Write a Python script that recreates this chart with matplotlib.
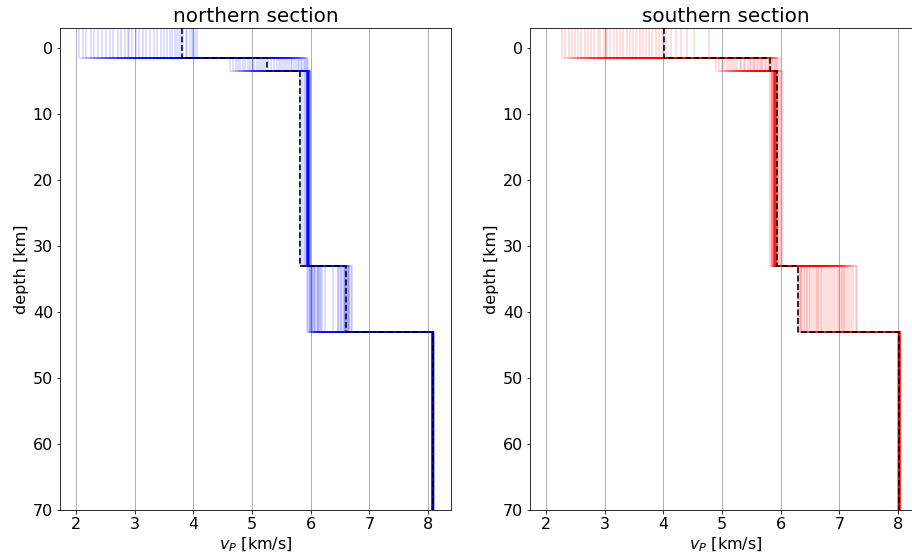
import matplotlib
matplotlib.use("Agg")
import matplotlib.pyplot as plt
import numpy as np

# Layer interfaces [km]; profile starts above sea level and ends in the half-space
layer_tops = [-3.0, 1.5, 3.5, 33.0, 43.0]
model_bottom = 70.0

# ---- northern section: ensemble of accepted models, P velocity per layer [km/s]
north_l1 = [2.05, 2.12, 2.18, 2.25, 2.31, 2.38, 2.44, 2.52, 2.58, 2.63, 2.71, 2.77, 2.84, 2.90,
            2.96, 3.02, 3.08, 3.14, 3.20, 3.27, 3.33, 3.39, 3.45, 3.50, 3.56, 3.60, 3.64, 3.69,
            3.72, 3.75, 3.79, 3.83, 3.87, 3.90, 3.94, 3.97, 4.00, 4.03, 4.06, 2.88]
north_l2 = [4.63, 4.68, 4.72, 4.77, 4.80, 4.84, 4.88, 4.93, 4.97, 5.00, 5.04, 5.08, 5.12, 5.15,
            5.19, 5.22, 5.28, 5.33, 5.38, 5.42, 5.46, 5.50, 5.53, 5.57, 5.60, 5.63, 5.66, 5.69,
            5.72, 5.75, 5.78, 5.80, 5.83, 5.86, 5.88, 5.90, 5.92, 5.94, 5.96, 5.02]
north_l3 = [5.95, 5.96, 5.94, 5.97, 5.95, 5.93, 5.98, 5.96, 5.95, 5.94, 5.97, 5.99, 5.96, 5.95,
            5.93, 5.94, 5.96, 5.98, 5.95, 5.97, 5.96, 5.94, 5.95, 5.92, 5.97, 5.96, 5.95, 5.98,
            5.94, 5.96, 5.90, 5.86, 5.82, 5.95, 5.96, 5.97, 5.94, 5.95, 5.93, 5.88]
north_l4 = [5.94, 5.96, 5.97, 5.99, 6.00, 6.02, 6.03, 6.05, 6.07, 6.08, 6.10, 6.12, 6.14, 6.16,
            6.18, 6.20, 6.25, 6.38, 6.46, 6.50, 6.52, 6.54, 6.56, 6.57, 6.58, 6.60, 6.61, 6.62,
            6.63, 6.64, 6.65, 6.66, 6.68, 6.70, 5.98, 6.04, 6.47, 6.59, 6.12, 6.01]
north_hs = [8.08, 8.07, 8.09, 8.08, 8.06, 8.08, 8.09, 8.10, 8.08, 8.07, 8.08, 8.09, 8.08, 8.07,
            8.08, 8.06, 8.08, 8.09, 8.08, 8.07, 8.10, 8.08, 8.08, 8.07, 8.09, 8.08, 8.06, 8.08,
            8.09, 8.08, 8.07, 8.08, 8.10, 8.08, 8.09, 8.07, 8.08, 8.08, 8.06, 8.09]
north_reference = [3.81, 5.25, 5.81, 6.60, 8.08]

# ---- southern section
south_l1 = [2.28, 2.33, 2.39, 2.44, 2.50, 2.55, 2.60, 2.66, 2.71, 2.77, 2.82, 2.88, 2.93, 2.99,
            3.04, 3.10, 3.16, 3.21, 3.27, 3.32, 3.38, 3.43, 3.49, 3.54, 3.60, 3.65, 3.70, 3.76,
            3.81, 3.87, 3.92, 3.97, 4.05, 4.13, 4.22, 4.30, 4.41, 4.52, 4.78, 3.02]
south_l2 = [4.89, 4.95, 5.00, 5.04, 5.08, 5.12, 5.15, 5.19, 5.23, 5.26, 5.30, 5.33, 5.37, 5.40,
            5.44, 5.47, 5.50, 5.53, 5.56, 5.59, 5.62, 5.65, 5.68, 5.70, 5.73, 5.75, 5.78, 5.80,
            5.82, 5.84, 5.86, 5.88, 5.90, 5.92, 5.94, 5.96, 5.99, 5.55, 5.67, 5.85]
south_l3 = [5.86, 5.88, 5.90, 5.91, 5.89, 5.92, 5.87, 5.93, 5.90, 5.88, 5.91, 5.94, 5.89, 5.90,
            5.92, 5.86, 5.95, 5.91, 5.88, 5.93, 5.90, 5.89, 5.92, 5.84, 5.96, 5.91, 5.87, 5.90,
            5.93, 5.82, 5.98, 6.04, 5.89, 5.92, 5.90, 5.88, 5.94, 5.91, 5.85, 6.00]
south_l4 = [6.29, 6.31, 6.33, 6.35, 6.37, 6.40, 6.42, 6.45, 6.48, 6.50, 6.53, 6.56, 6.60, 6.63,
            6.66, 6.68, 6.70, 6.73, 6.77, 6.80, 6.84, 6.88, 6.91, 6.95, 6.98, 7.00, 7.02, 7.04,
            7.06, 7.08, 7.10, 7.13, 7.16, 7.20, 7.24, 7.28, 7.30, 6.34, 6.44, 6.62]
south_hs = [8.02, 8.01, 8.03, 8.02, 8.00, 8.02, 8.03, 8.04, 8.02, 8.01, 8.02, 8.03, 8.02, 8.01,
            8.02, 8.00, 8.02, 8.03, 8.02, 8.01, 8.04, 8.02, 8.02, 8.01, 8.03, 8.02, 8.00, 8.02,
            8.03, 8.02, 8.01, 8.02, 8.04, 8.02, 8.03, 8.01, 8.02, 8.02, 8.00, 8.03]
south_reference = [4.01, 5.82, 5.93, 6.30, 8.02]

x_ticks = [2, 3, 4, 5, 6, 7, 8]
y_ticks = [0, 10, 20, 30, 40, 50, 60, 70]


def step_profile(velocities):
    """Return (v, z) vertices of a layered model drawn as a staircase."""
    bounds = list(layer_tops) + [model_bottom]
    v, z = [], []
    for i, vel in enumerate(velocities):
        v += [vel, vel]
        z += [bounds[i], bounds[i + 1]]
    return v, z


plt.rcParams["font.size"] = 16
fig = plt.figure(figsize=(912 / 72, 558 / 72), dpi=72)

W, H = 912.0, 558.0
ax_n = fig.add_axes([60 / W, 48 / H, 391 / W, 482 / H])
ax_s = fig.add_axes([530 / W, 48 / H, 391 / W, 482 / H])

panels = [
    (ax_n, "northern section", "b",
     [north_l1, north_l2, north_l3, north_l4, north_hs], north_reference),
    (ax_s, "southern section", "r",
     [south_l1, south_l2, south_l3, south_l4, south_hs], south_reference),
]

for ax, title, color, layers, reference in panels:
    n_models = len(layers[0])
    for k in range(n_models):
        model = [layer[k] for layer in layers]
        v, z = step_profile(model)
        ax.plot(v, z, color=color, alpha=0.13, lw=2, zorder=2)
    v, z = step_profile(reference)
    ax.plot(v, z, color="k", ls="--", lw=1.6, zorder=3)

    ax.set_xlim(1.73, 8.39)
    ax.set_ylim(model_bottom, -3)
    ax.set_xticks(x_ticks)
    ax.set_yticks(y_ticks)
    ax.grid(axis="x", color="#b0b0b0", lw=1.0, zorder=0)
    ax.set_axisbelow(True)
    ax.set_title(title, fontsize=20)
    ax.set_xlabel("$v_P$ [km/s]")
    ax.set_ylabel("depth [km]")

fig.savefig("out.png", dpi=72)
